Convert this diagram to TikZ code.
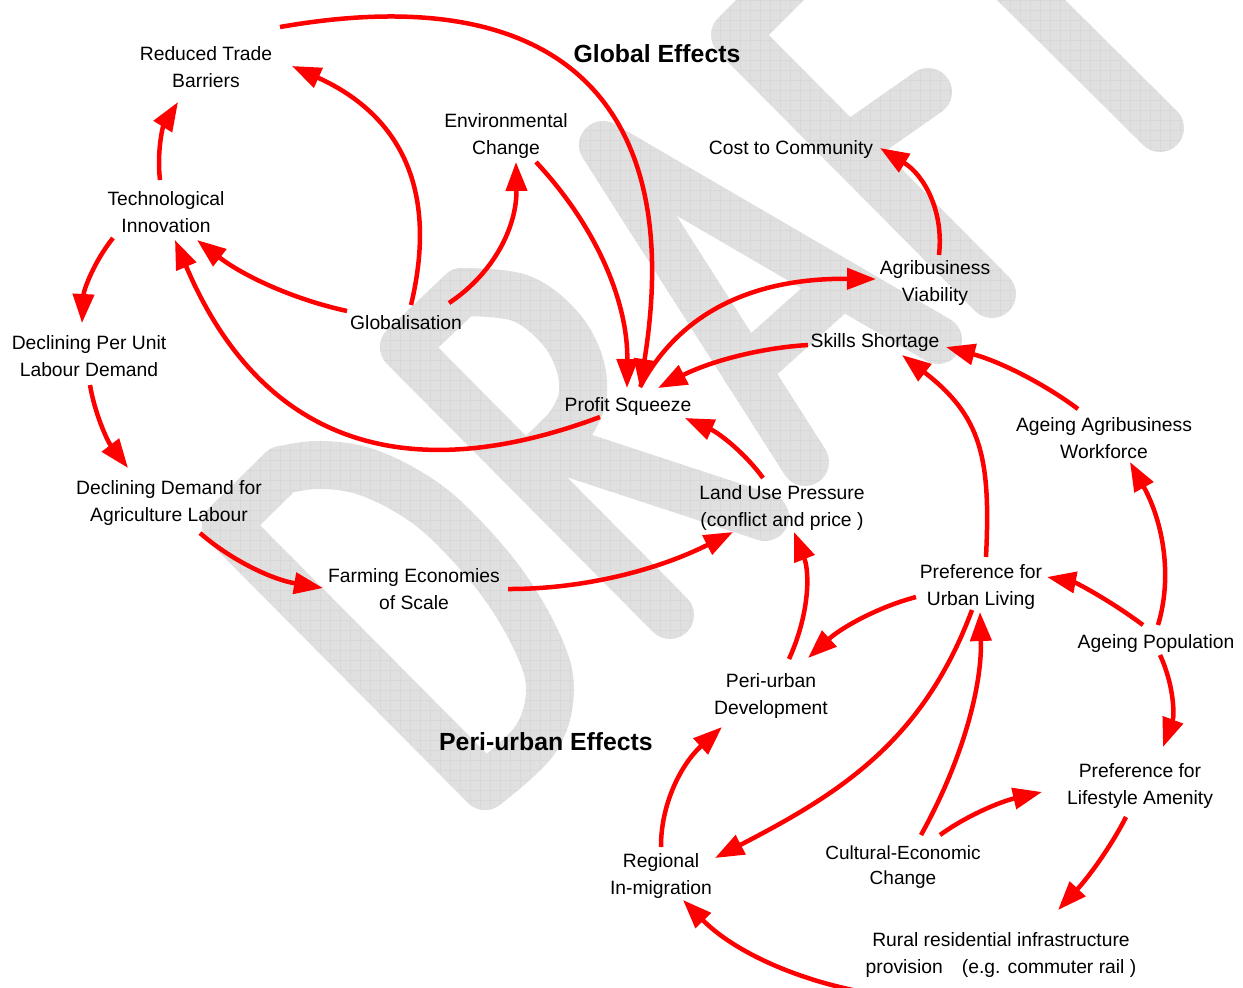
\documentclass[tikz,border=0pt]{standalone}
\usepackage{fontspec}
\setmainfont{Liberation Sans}
\usetikzlibrary{arrows.meta,calc}
\definecolor{arrred}{RGB}{255,0,0}
\definecolor{wmgray}{RGB}{224,224,224}
\definecolor{wmgrid}{RGB}{200,200,200}
\begin{document}
\begin{tikzpicture}[x=1pt,y=-1pt,
  lbl/.style={align=center,inner sep=0pt,font=\fontsize{19.3pt}{27pt}\selectfont},
  lblsmall/.style={align=center,inner sep=0pt,font=\fontsize{19pt}{25pt}\selectfont},
  ttl/.style={inner sep=0pt,font=\fontsize{24.8pt}{30pt}\selectfont\bfseries},
  arr/.style={draw=arrred,line width=4.5pt,-{Triangle[length=29pt,width=21pt]}},
  wm/.style={draw=wmgray,line width=48pt,line cap=round,line join=round}]
\useasboundingbox (0,0) rectangle (1243,988);
\fill[white] (0,0) rectangle (1243,988);
% watermark DRAFT
\begin{scope}
\clip (0,0) rectangle (1243,988);
% D
\draw[wm] (485,786) -- (226,525) -- (282,470);
\draw[wm] plot[smooth,tension=0.6] coordinates {(282,470) (317,465) (360,470) (405,490) (447,521) (500,580) (537,642) (550,690) (535,740) (485,786)};
% R
\draw[wm] (670,615) -- (404,347) -- (462,292);
\draw[wm] plot[smooth,tension=0.6] coordinates {(462,292) (520,298) (560,328) (580,365) (582,400) (568,428)};
\draw[wm] (568,428) -- (528,468);
\draw[wm] (555,448) -- (765,517);
% A
\draw[wm] (805,462) -- (603,145) -- (938,340);
\draw[wm] (746,370) -- (842,284);
% F
\draw[wm] (992,294) -- (735,35) -- (850,-80);
\draw[wm] (848,148) -- (928,92);
% T
\draw[wm] (1160,128) -- (900,-130);
\end{scope}
\begin{scope}[blend mode=color burn]
\draw[wmgrid,line width=0.8pt,xstep=10pt,ystep=10pt] (0,0) grid (1243,988);
\end{scope}
% nodes
\node[ttl] (ge) at (657,54) {Global Effects};
\node[ttl] (pe) at (546,742) {Peri-urban Effects};
\node[lbl] (rtb) at (206,67.5) {Reduced Trade\\Barriers};
\node[lbl] (env) at (506,136.5) {Environmental\\Change};
\node[lbl] (cost) at (791,150) {Cost to Community};
\node[lbl] (tech) at (166,212.5) {Technological\\Innovation};
\node[lbl] (agri) at (935,283.5) {Agribusiness\\Viability};
\node[lbl] (glob) at (406,323) {Globalisation};
\node[lbl] (skills) at (875,343) {Skills Shortage};
\node[lbl] (dpu) at (89,356.5) {Declining Per Unit\\Labour Demand};
\node[lbl] (profit) at (628,407) {Profit Squeeze};
\node[lbl] (aaw) at (1104,438.5) {Ageing Agribusiness\\Workforce};
\node[lbl] (ddal) at (169,503.5) {Declining Demand for\\Agriculture Labour};
\node[lbl] (land) at (782,508.5) {Land Use Pressure\\(conflict and price )};
\node[lbl] (farm) at (414,589.5) {Farming Economies\\of Scale};
\node[lbl] (urban) at (981,587) {Preference for\\Urban Living};
\node[lbl] (apop) at (1156,643.5) {Ageing Population};
\node[lbl] (peri) at (771,696) {Peri-urban\\Development};
\node[lbl] (life) at (1140,786.5) {Preference for\\Lifestyle Amenity};
\node[lbl] (reg) at (661,876) {Regional\\In-migration};
\node[lblsmall] (cult) at (903,867.5) {Cultural-Economic\\Change};
\node[lbl] (rural) at (1001,955) {Rural residential infrastructure\\provision\hspace{19pt}(e.g. commuter rail )};
% connectors
\draw[arr] ($(tech)+(-6,-32.5)$) .. controls +(-3.3,-27.3) and +(-15.3,24.7) .. ($(rtb)+(-28,34.5)$);
\draw[arr] ($(glob)+(5,-18)$) .. controls +(30,-125) and +(100,45) .. ($(rtb)+(86,-1.5)$);
\draw[arr] ($(glob)+(-59,-12)$) .. controls +(-55,-12) and +(45,35) .. ($(tech)+(31,27.5)$);
\draw[arr] ($(glob)+(43,-20)$) .. controls +(45.7,-30.3) and +(1,63.7) .. ($(env)+(10,25.5)$);
\draw[arr] ($(env)+(30,25.5)$) .. controls +(61.7,66) and +(1,-84.7) .. ($(profit)+(-1,-19)$);
\draw[arr] ($(rtb)+(74,-40.5)$) .. controls +(285,-50) and +(45,-280) .. ($(profit)+(12,-19)$);
\draw[arr] ($(profit)+(-28,10)$) .. controls +(-216,80.5) and +(78,184) .. ($(tech)+(9,27.5)$);
\draw[arr] ($(profit)+(12,-20)$) .. controls +(40,-75) and +(-123,-1) .. ($(agri)+(-59,-4.5)$);
\draw[arr] ($(skills)+(-67,2)$) .. controls +(-50,3) and +(50,-25.7) .. ($(profit)+(30,-19)$);
\draw[arr] ($(land)+(-19,-30.5)$) .. controls +(-18,-25) and +(34,15) .. ($(profit)+(57,11)$);
\draw[arr] ($(agri)+(4,-28.5)$) .. controls +(5,-44) and +(44,27) .. ($(cost)+(89,-2)$);
\draw[arr] ($(aaw)+(-26,-29.5)$) .. controls +(-39,-29) and +(49,13) .. ($(skills)+(71,4)$);
\draw[arr] ($(urban)+(5,-30)$) .. controls +(5,-100) and +(79,61) .. ($(skills)+(27,12)$);
\draw[arr] ($(tech)+(-53,25.5)$) .. controls +(-19,23.7) and +(1.7,-33) .. ($(dpu)+(-7,-33.5)$);
\draw[arr] ($(dpu)+(1,28.5)$) .. controls +(4.7,28.3) and +(-20.7,-27) .. ($(ddal)+(-41,-35.5)$);
\draw[arr] ($(ddal)+(31,29.5)$) .. controls +(32,28) and +(-50,-8.3) .. ($(farm)+(-91,-1.5)$);
\draw[arr] ($(farm)+(94,-0.5)$) .. controls +(74,0.3) and +(-75.7,38.3) .. ($(land)+(-49,23.5)$);
\draw[arr] ($(peri)+(18,-37)$) .. controls +(19.7,-43) and +(16.3,41.7) .. ($(land)+(12,23.5)$);
\draw[arr] ($(urban)+(-65,10)$) .. controls +(-38.7,10.3) and +(33.3,-30.3) .. ($(peri)+(37,-38)$);
\draw[arr] ($(urban)+(-9,23)$) .. controls +(-49,131.6) and +(124.6,-64.4) .. ($(reg)+(54,-18)$);
\draw[arr] ($(cult)+(18,-32.5)$) .. controls +(41.7,-75) and +(2.3,73.7) .. ($(urban)+(-1,25)$);
\draw[arr] ($(cult)+(37,-32.5)$) .. controls +(26,-19) and +(-42,9.7) .. ($(life)+(-98,5.5)$);
\draw[arr] ($(apop)+(-13,-18.5)$) .. controls +(-36,-26.7) and +(28,5.3) .. ($(urban)+(66,-10)$);
\draw[arr] ($(apop)+(2,-18.5)$) .. controls +(14.7,-48.3) and +(33.3,60.3) .. ($(aaw)+(26,23.5)$);
\draw[arr] ($(apop)+(4,11.5)$) .. controls +(13.7,29.3) and +(11.7,-32) .. ($(life)+(23,-39.5)$);
\draw[arr] ($(life)+(-14,30.5)$) .. controls +(-14.7,29) and +(30.7,-33) .. ($(rural)+(57,-45)$);
\draw[arr] ($(rural)+(-121,40)$) .. controls +(-81,-12.3) and +(50.3,51) .. ($(reg)+(22,24)$);
\draw[arr] ($(reg)+(0,-29)$) .. controls +(-0.3,-42.7) and +(-41,37.3) .. ($(peri)+(-49,31)$);
\end{tikzpicture}
\end{document}
